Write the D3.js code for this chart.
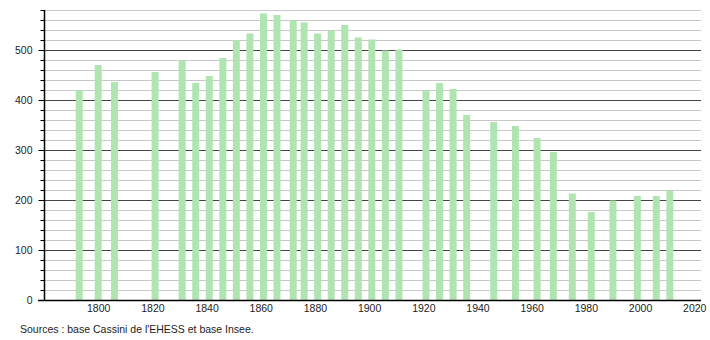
<!DOCTYPE html>
<html>
<head>
<meta charset="utf-8">
<script src="https://cdn.jsdelivr.net/npm/d3@7"></script>
<style>
  body { margin: 0; background: #fff; }
  svg { display: block; font-family: "Liberation Sans", Arial, sans-serif; }
</style>
</head>
<body>
<div id="chart"></div>
<script>
'use strict'

// census years and population
const years = [1793, 1800, 1806, 1821, 1831, 1836, 1841, 1846, 1851, 1856, 1861, 1866,
  1872, 1876, 1881, 1886, 1891, 1896, 1901, 1906, 1911, 1921, 1926, 1931, 1936,
  1946, 1954, 1962, 1968, 1975, 1982, 1990, 1999, 2006, 2011]
const population = [420, 470, 436, 456, 479, 434, 448, 484, 520, 533, 573, 570,
  559, 555, 533, 539, 550, 525, 521, 499, 501, 419, 434, 422, 370,
  356, 348, 324, 296, 213, 176, 199, 208, 208, 219]
const yearTicks = [1800, 1820, 1840, 1860, 1880, 1900, 1920, 1940, 1960, 1980, 2000, 2020]
const popTicks = [0, 100, 200, 300, 400, 500]
const sourceText = "Sources : base Cassini de l'EHESS et base Insee."

const svgWidth = 710
const svgHeight = 340

const svg = d3.select('#chart').append('svg')
    .attr('width', svgWidth)
    .attr('height', svgHeight)

const x = d3.scaleLinear().domain([1780, 2022.5]).range([44, 701])
const y = d3.scaleLinear().domain([0, 580]).range([300, 10])

// minor grid every 20
const minor = d3.range(20, 581, 20).filter(v => v % 100 !== 0)
svg.append('g').selectAll('line')
    .data(minor)
    .join('line')
    .attr('x1', x.range()[0]).attr('x2', x.range()[1])
    .attr('y1', d => y(d) + 0.5).attr('y2', d => y(d) + 0.5)
    .attr('stroke', '#c8c8c8')
    .attr('stroke-width', 1)

// major grid
svg.append('g').selectAll('line')
    .data(popTicks.filter(d => d > 0))
    .join('line')
    .attr('x1', x.range()[0]).attr('x2', x.range()[1])
    .attr('y1', d => y(d) + 0.5).attr('y2', d => y(d) + 0.5)
    .attr('stroke', '#444')
    .attr('stroke-width', 1)

// bars
const barW = 7
svg.append('g').selectAll('rect')
    .data(years)
    .join('rect')
    .attr('x', (d, i) => x(d) - barW / 2)
    .attr('width', barW)
    .attr('y', (d, i) => y(population[i]))
    .attr('height', (d, i) => y(0) - y(population[i]))
    .attr('fill', '#b0e5b2')

// y axis with minor ticks
const yAxisG = svg.append('g')
    .attr('transform', `translate(${x.range()[0] + 0.5},0)`)
    .call(d3.axisLeft(y).tickValues(d3.range(0, 581, 20)).tickSize(4).tickFormat(d => d % 100 === 0 ? d : ''))
yAxisG.select('.domain').remove()
yAxisG.selectAll('.tick line').attr('stroke', '#000')
    .attr('x2', d => d % 100 === 0 ? -6 : -4)
yAxisG.selectAll('.tick text')
    .attr('x', -12)
    .attr('font-size', 10.5)
    .attr('font-family', '"Liberation Sans", Arial, sans-serif')
    .attr('fill', '#222')
svg.append('line')
    .attr('x1', x.range()[0] + 0.5).attr('x2', x.range()[0] + 0.5)
    .attr('y1', y.range()[1]).attr('y2', y(0))
    .attr('stroke', '#000').attr('stroke-width', 1.5)

// x axis
const xAxisG = svg.append('g')
    .attr('transform', `translate(0,${y(0) + 0.5})`)
    .call(d3.axisBottom(x).tickValues(yearTicks).tickSize(0).tickPadding(4).tickFormat(d3.format('d')))
xAxisG.select('.domain').remove()
xAxisG.selectAll('.tick text')
    .attr('font-size', 10.5)
    .attr('font-family', '"Liberation Sans", Arial, sans-serif')
    .attr('fill', '#222')
svg.append('line')
    .attr('x1', 38).attr('x2', x.range()[1])
    .attr('y1', y(0) + 0.5).attr('y2', y(0) + 0.5)
    .attr('stroke', '#000').attr('stroke-width', 1.5)

// source note
svg.append('text')
    .attr('x', 20)
    .attr('y', 333)
    .attr('font-size', 10.5)
    .attr('fill', '#222')
    .text(sourceText)
</script>
</body>
</html>
